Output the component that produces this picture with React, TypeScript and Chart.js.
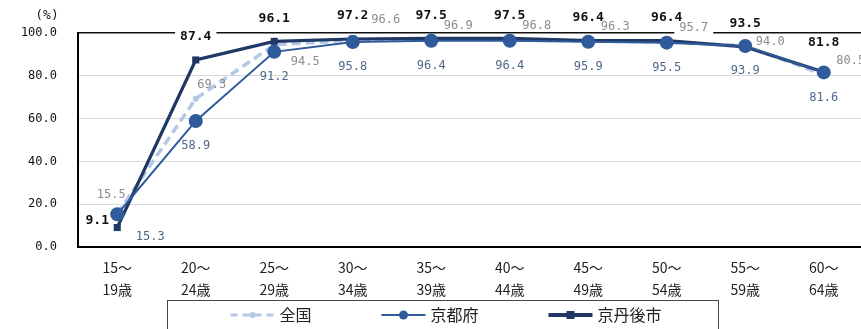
import React, { useEffect, useRef } from "react";
import { Chart, registerables } from "chart.js";

Chart.register(...registerables);

// ---- data ----
const ageFrom = ["15～", "20～", "25～", "30～", "35～", "40～", "45～", "50～", "55～", "60～"];
const ageTo = ["19歳", "24歳", "29歳", "34歳", "39歳", "44歳", "49歳", "54歳", "59歳", "64歳"];
const seriesNames = ["全国", "京都府", "京丹後市"];
const zenkoku = [15.5, 69.3, 94.5, 96.6, 96.9, 96.8, 96.3, 95.7, 94.0, 80.5];
const kyotoFu = [15.3, 58.9, 91.2, 95.8, 96.4, 96.4, 95.9, 95.5, 93.9, 81.6];
const kyotango = [9.1, 87.4, 96.1, 97.2, 97.5, 97.5, 96.4, 96.4, 93.5, 81.8];
const yTicks = [0, 20, 40, 60, 80, 100];

// ---- label placement (style) ----
const OFFSETS: Record<string, [number, number]> = {
  T: [0, -23],
  TT: [0, -29],
  B: [0, 25],
  L: [-20, -7],
  R: [27, -14],
  RT: [33, -20],
  RB: [31, 17],
  RR: [25, -4],
  TL: [-6, -19],
  TR: [16, -14],
  BR: [33, 23],
};
const zenkokuPlace = ["TL", "TR", "RB", "RT", "R", "R", "R", "R*", "RR", "R"];
const kyotoFuPlace = ["BR", "B", "B", "B", "B", "B", "B", "B", "B", "B"];
const kyotangoPlace = ["L", "T*", "T", "T", "T", "T", "T", "T", "T", "TT"];

const styles = [
  { color: "#b4c7e7", width: 3.5, dash: [9, 5], point: "circle", radius: 3, labelColor: "#8c8c8c", labelFont: "12px 'DejaVu Sans Mono'", order: 3 },
  { color: "#2f5a9c", width: 2, dash: [], point: "circle", radius: 7, labelColor: "#4d6888", labelFont: "12px 'DejaVu Sans Mono'", order: 1 },
  { color: "#1f3864", width: 3.2, dash: [], point: "rect", radius: 5, labelColor: "#111111", labelFont: "bold 13px 'DejaVu Sans Mono'", order: 2 },
];
const seriesValues = [zenkoku, kyotoFu, kyotango];
const seriesPlace = [zenkokuPlace, kyotoFuPlace, kyotangoPlace];

const labelPlugin = {
  id: "valueLabels",
  afterDatasetsDraw(chart: any) {
    const ctx = chart.ctx as CanvasRenderingContext2D;
    ctx.save();
    ctx.textAlign = "center";
    ctx.textBaseline = "middle";
    for (const pass of [0, 1]) {
      seriesValues.forEach((vals, di) => {
        const meta = chart.getDatasetMeta(di);
        const st = styles[di];
        meta.data.forEach((pt: any, i: number) => {
          const code = seriesPlace[di][i];
          const bg = code.endsWith("*");
          const [dx, dy] = OFFSETS[code.replace("*", "")];
          const text = vals[i].toFixed(1);
          const x = pt.x + dx;
          const y = pt.y + dy;
          ctx.font = st.labelFont;
          if (pass === 0) {
            if (bg) {
              const w = ctx.measureText(text).width;
              ctx.fillStyle = "#ffffff";
              ctx.fillRect(x - w / 2 - 5, y - 9, w + 10, 19);
            }
          } else {
            ctx.fillStyle = st.labelColor;
            ctx.fillText(text, x, y);
          }
        });
      });
    }
    ctx.restore();
  },
};

const decorPlugin = {
  id: "decor",
  afterDraw(chart: any) {
    const ctx = chart.ctx as CanvasRenderingContext2D;
    ctx.save();
    // unit
    ctx.fillStyle = "#222";
    ctx.font = "13px 'DejaVu Sans Mono'";
    ctx.textAlign = "center";
    ctx.textBaseline = "middle";
    ctx.fillText("(%)", 47, 16);
    // legend box
    const boxL = 167.5, boxR = 718.5, boxT = 300.5;
    ctx.strokeStyle = "#444";
    ctx.lineWidth = 1;
    ctx.strokeRect(boxL, boxT, boxR - boxL, 40);
    ctx.font = "16px 'Noto Sans CJK JP'";
    const lineLen = 44, gapTxt = 5, gapItem = 70;
    const widths = seriesNames.map((n) => lineLen + gapTxt + ctx.measureText(n).width);
    const total = widths.reduce((a, b) => a + b, 0) + gapItem * (widths.length - 1);
    let x = (boxL + boxR) / 2 - total / 2 + 3;
    const y = 315;
    seriesNames.forEach((name, i) => {
      const st = styles[i];
      ctx.strokeStyle = st.color;
      ctx.lineWidth = i === 0 ? 3 : i === 1 ? 2 : 4;
      ctx.setLineDash(i === 0 ? [7, 5] : []);
      ctx.beginPath();
      ctx.moveTo(x, y);
      ctx.lineTo(x + lineLen, y);
      ctx.stroke();
      ctx.setLineDash([]);
      ctx.fillStyle = st.color;
      const cx = x + lineLen / 2;
      if (st.point === "rect") {
        ctx.fillRect(cx - 4, y - 4, 8, 8);
      } else {
        ctx.beginPath();
        ctx.arc(cx, y, i === 0 ? 3 : 4.5, 0, Math.PI * 2);
        ctx.fill();
      }
      ctx.fillStyle = "#222";
      ctx.textAlign = "left";
      ctx.fillText(name, x + lineLen + gapTxt, y);
      x += widths[i] + gapItem;
    });
    ctx.restore();
  },
};

export default function App() {
  const ref = useRef<HTMLCanvasElement>(null);
  useEffect(() => {
    if (!ref.current) return;
    const chart = new Chart(ref.current, {
      type: "line",
      data: {
        labels: ageFrom.map((a, i) => [a, ageTo[i]]),
        datasets: seriesValues.map((vals, i) => ({
          label: seriesNames[i],
          data: vals,
          borderColor: styles[i].color,
          backgroundColor: styles[i].color,
          borderWidth: styles[i].width,
          borderDash: styles[i].dash,
          pointStyle: styles[i].point as any,
          pointRadius: styles[i].radius,
          pointBorderWidth: 0,
          pointBackgroundColor: styles[i].color,
          tension: 0,
          order: styles[i].order,
          clip: false as any,
        })),
      },
      options: {
        animation: false,
        responsive: false,
        layout: { padding: { left: 0, right: 0, top: 33, bottom: 0 } },
        plugins: { legend: { display: false }, tooltip: { enabled: false } },
        scales: {
          x: {
            type: "category",
            offset: true,
            grid: { display: false, drawTicks: false },
            border: { display: true, color: "#000", width: 2 },
            ticks: {
              color: "#222",
              padding: 10,
              maxRotation: 0,
              autoSkip: false,
              font: { family: "'Noto Sans CJK JP'", size: 14, lineHeight: "22px" as any },
            },
            afterFit: (s: any) => { s.height = 82; },
          },
          y: {
            min: 0,
            max: 100,
            afterBuildTicks: (s: any) => { s.ticks = yTicks.map((v) => ({ value: v })); },
            grid: {
              drawTicks: false,
              color: (c: any) => (c.tick && (c.tick.value === 100 || c.tick.value === 0) ? "#111" : "#d9d9d9"),
              lineWidth: (c: any) => (c.tick && c.tick.value === 100 ? 1.5 : 1),
            },
            border: { display: true, color: "#000", width: 2 },
            ticks: {
              color: "#111",
              padding: 21,
              font: { family: "'DejaVu Sans Mono'", size: 12 },
              callback: (v: any) => Number(v).toFixed(1),
            },
            afterFit: (s: any) => { s.width = 78; },
          },
        },
      },
      plugins: [labelPlugin, decorPlugin],
    });
    return () => chart.destroy();
  }, []);
  return (
    <div style={{ position: "fixed", left: 0, top: 0, width: 861, height: 329, overflow: "hidden", background: "#fff" }}>
      <canvas ref={ref} width={870} height={329} style={{ display: "block", width: 870, height: 329 }} />
    </div>
  );
}
